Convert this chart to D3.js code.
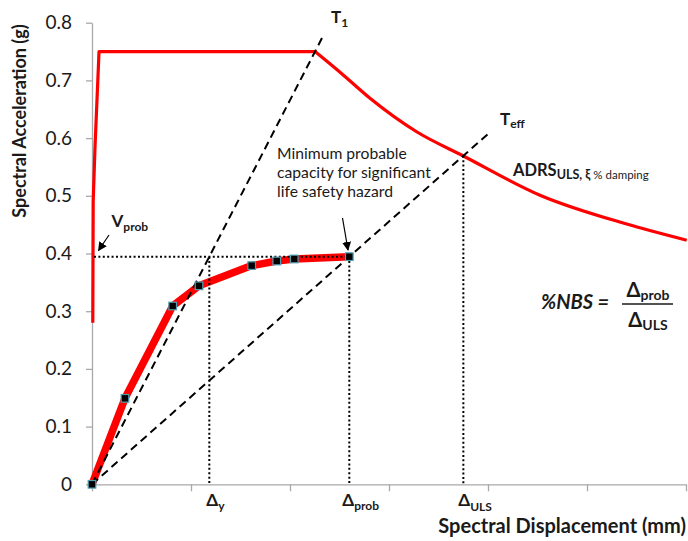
<!DOCTYPE html>
<html><head><meta charset="utf-8">
<script src="https://cdn.jsdelivr.net/npm/d3@7"></script>
<style>
html,body{margin:0;padding:0;background:#fff;}
svg text{font-family:Lato,"Open Sans",sans-serif;fill:#1a1a1a;}
</style></head>
<body><svg id="c" width="688" height="541"></svg>
<script>
// ---- data ----
const xTicks = [0, 100, 200, 300, 400, 500, 600];
const yTicks = [0, 0.1, 0.2, 0.3, 0.4, 0.5, 0.6, 0.7, 0.8];
// ADRS (ULS, xi % damping) demand spectrum: rising branch + plateau
const adrsRiseSd = [0.8, 1.2, 3.0, 7.1, 225.3];
const adrsRiseSa = [0.28, 0.49, 0.583, 0.75, 0.75];
// ADRS descending branch
const adrsFallSd = [225.3, 252, 280.8, 327.9, 375.1, 452.5, 540.1, 600.7];
const adrsFallSa = [0.75, 0.712, 0.669, 0.611, 0.569, 0.501, 0.451, 0.423];
// capacity curve
const capSd = [0, 33.3, 81.5, 108.1, 161.3, 186.6, 204.3, 259.9];
const capSa = [0, 0.149, 0.309, 0.344, 0.379, 0.387, 0.3905, 0.3945];
// key values
const vProb = 0.3945;
const deltaY = 118.5, deltaProb = 259.9, deltaULS = 375.1;
const t1End = [232.5, 0.774];
const teffEnd = [401, 0.6087];
const sdULS = 0.5694;

// ---- chart ----
const svg = d3.select("#c");
const x = d3.scaleLinear().domain([0, 600]).range([92, 686]);
const y = d3.scaleLinear().domain([0, 0.8]).range([484.3, 22.7]);

const axisCol = "#a9a9a9";
const gx = svg.append("g").attr("transform", `translate(0,${y(0)})`)
  .call(d3.axisBottom(x).tickValues(xTicks).tickFormat("").tickSizeOuter(0).tickSizeInner(7));
const gy = svg.append("g").attr("transform", `translate(${x(0)},0)`)
  .call(d3.axisLeft(y).tickValues(yTicks).tickFormat(d => d === 0 ? "0" : d3.format(".1f")(d)).tickSizeOuter(0).tickSizeInner(6).tickPadding(14));
[gx, gy].forEach(g => {
  g.select(".domain").attr("stroke", axisCol).attr("stroke-width", 1.3);
  g.selectAll(".tick line").attr("stroke", axisCol).attr("stroke-width", 1.3);
});
gy.selectAll(".tick text").style("font-family", "Lato, sans-serif").style("font-size", "19px").attr("fill", "#1a1a1a");

// arrow marker
const defs = svg.append("defs");
defs.append("marker").attr("id", "arr").attr("viewBox", "0 0 10 10").attr("refX", 9).attr("refY", 5)
  .attr("markerWidth", 9).attr("markerHeight", 9).attr("markerUnits", "userSpaceOnUse").attr("orient", "auto")
  .append("path").attr("d", "M0,0 L10,5 L0,10 z").attr("fill", "#000");

const line = d3.line().x(d => x(d[0])).y(d => y(d[1]));
const smooth = d3.line().x(d => x(d[0])).y(d => y(d[1])).curve(d3.curveMonotoneX);

// ADRS curve
svg.append("path").datum(d3.zip(adrsRiseSd, adrsRiseSa)).attr("d", line)
  .attr("fill", "none").attr("stroke", "#ff0000").attr("stroke-width", 3.2).attr("stroke-linejoin", "round");
svg.append("path").datum(d3.zip(adrsFallSd, adrsFallSa)).attr("d", smooth)
  .attr("fill", "none").attr("stroke", "#ff0000").attr("stroke-width", 3.2).attr("stroke-linejoin", "round");

// capacity curve
svg.append("path").datum(d3.zip(capSd, capSa)).attr("d", line)
  .attr("fill", "none").attr("stroke", "#ff0000").attr("stroke-width", 7.5).attr("stroke-linejoin", "round");

// dashed period lines
[[[0, 0], t1End], [[0, 0], teffEnd]].forEach(seg => {
  svg.append("path").datum(seg).attr("d", line).attr("fill", "none")
    .attr("stroke", "#000").attr("stroke-width", 2).attr("stroke-dasharray", "8,5");
});

// dotted lines
const dotted = [
  [[2, vProb], [deltaProb, vProb]],
  [[deltaY, vProb], [deltaY, 0]],
  [[deltaProb, vProb], [deltaProb, 0]],
  [[deltaULS, sdULS], [deltaULS, 0]]
];
dotted.forEach(seg => {
  svg.append("path").datum(seg).attr("d", line).attr("fill", "none")
    .attr("stroke", "#000").attr("stroke-width", 2).attr("stroke-dasharray", "2,2.4");
});

// markers
svg.selectAll("rect.m").data(d3.zip(capSd, capSa)).join("rect").attr("class", "m")
  .attr("x", d => x(d[0]) - 3.8).attr("y", d => y(d[1]) - 3.8).attr("width", 7.6).attr("height", 7.6)
  .attr("fill", "#000").attr("stroke", "#4f9fb3").attr("stroke-width", 1.2);

// arrows
svg.append("line").attr("x1", 109).attr("y1", 235).attr("x2", 98.5).attr("y2", 250.5)
  .attr("stroke", "#000").attr("stroke-width", 1.2).attr("marker-end", "url(#arr)");
svg.append("line").attr("x1", 342.5).attr("y1", 218).attr("x2", 348).attr("y2", 250)
  .attr("stroke", "#000").attr("stroke-width", 1.2).attr("marker-end", "url(#arr)");

// helper for main+subscript labels
function subLabel(px, py, main, sub, mainSize, subSize, subDy, opts = {}) {
  const t = svg.append("text").attr("x", px).attr("y", py).attr("font-weight", "bold")
    .attr("text-anchor", opts.anchor || "start");
  t.append("tspan").attr("font-size", mainSize).text(main);
  t.append("tspan").attr("font-size", subSize).attr("dy", subDy).text(sub);
  return t;
}

// axis titles
svg.append("text").attr("transform", "translate(26,121) rotate(-90)").attr("text-anchor", "middle")
  .attr("font-weight", "bold").attr("font-size", 18).text("Spectral Acceleration (g)");
svg.append("text").attr("x", 686).attr("y", 533).attr("text-anchor", "end")
  .attr("font-weight", "bold").attr("font-size", 20).text("Spectral Displacement (mm)");

// delta labels on x axis
subLabel(x(deltaY) - 3, 506, "Δ", "y", 17, 12, 4);
subLabel(x(deltaProb) - 7, 506, "Δ", "prob", 17, 12, 4);
subLabel(x(deltaULS) - 5, 506, "Δ", "ULS", 17, 12, 5);

// period labels
subLabel(331, 23, "T", "1", 17, 12, 4);
subLabel(500, 125, "T", "eff", 17, 12, 3);

// Vprob
subLabel(111.5, 227, "V", "prob", 17, 12, 4);

// ADRS label
const at = svg.append("text").attr("x", 513).attr("y", 176).attr("font-weight", "bold");
at.append("tspan").attr("font-size", 16.5).text("ADRS");
at.append("tspan").attr("font-size", 12.5).attr("dy", 3).text("ULS, ξ ");
at.append("tspan").attr("font-size", 11.5).attr("font-weight", "normal").text("% damping");

// annotation
["Minimum probable", "capacity for significant", "life safety hazard"].forEach((s, i) => {
  svg.append("text").attr("x", 277).attr("y", 159 + i * 19).attr("font-size", 15.7).text(s);
});

// %NBS formula
svg.append("text").attr("x", 541).attr("y", 309).attr("font-weight", "bold").attr("font-style", "italic")
  .attr("font-size", 20).text("%NBS =");
subLabel(648, 297, "Δ", "prob", 20, 14, 3, {anchor: "middle"});
subLabel(648, 327, "Δ", "ULS", 20, 14, 3, {anchor: "middle"});
svg.append("line").attr("x1", 622).attr("x2", 673).attr("y1", 304).attr("y2", 304)
  .attr("stroke", "#1a1a1a").attr("stroke-width", 1.5);
</script></body></html>
